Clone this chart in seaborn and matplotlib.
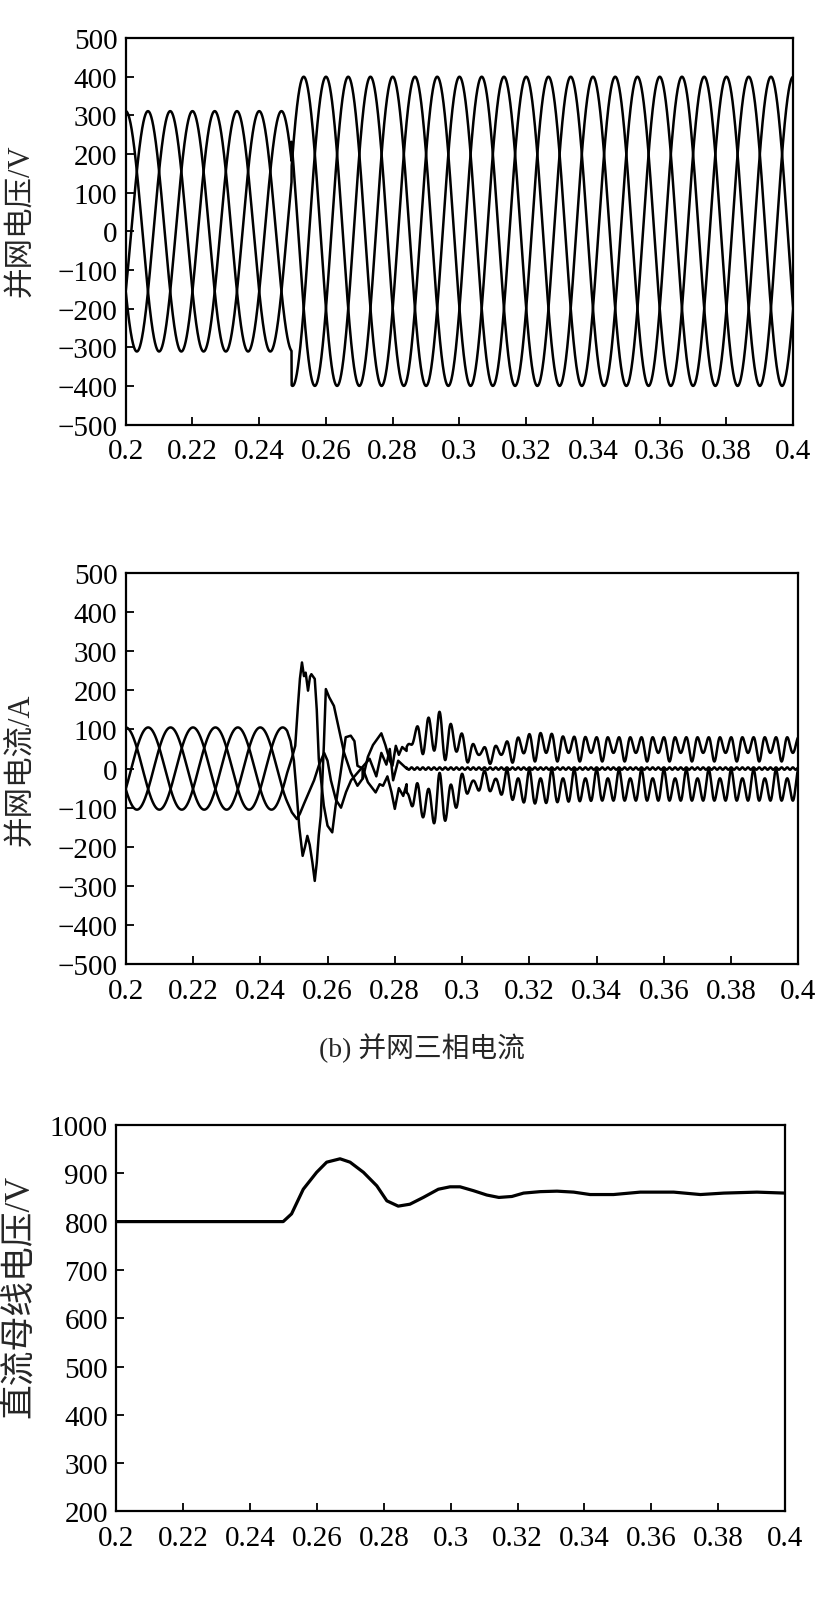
import numpy as np
import matplotlib
matplotlib.use('Agg')
import matplotlib.pyplot as plt
import seaborn as sns

# ---- axis ticks ----
x_ticks = [0.2, 0.22, 0.24, 0.26, 0.28, 0.3, 0.32, 0.34, 0.36, 0.38, 0.4]
x_tick_labels = ['0.2', '0.22', '0.24', '0.26', '0.28', '0.3', '0.32', '0.34', '0.36', '0.38', '0.4']
ac_ticks = [-500, -400, -300, -200, -100, 0, 100, 200, 300, 400, 500]
dc_ticks = [200, 300, 400, 500, 600, 700, 800, 900, 1000]

# ---- (a) grid voltage: three-phase sine, amplitude steps at the switch ----
volt_freq = 50
volt_amp = [311, 400]
volt_switch = 0.2497
phase_shift_deg = [0, -120, 120]

# ---- (b) grid current ----
cur_freq = 50
cur_amp = 105
cur_pre_end = 0.248
# transient vertices (time, value) for the three phases
cur_x_t = [0.2480, 0.2490, 0.2500, 0.2508, 0.2516, 0.2526, 0.2533, 0.2540, 0.2547, 0.2555, 0.2562,
           0.2568, 0.2574, 0.2580, 0.2589, 0.2595, 0.2605, 0.2619, 0.2634, 0.2649, 0.2669, 0.2689, 0.2705]
cur_x_v = [96, 70, 20, -60, -150, -223, -200, -172, -195, -240, -287,
           -240, -170, -121, 58, 203, 182, 160, 101, 41, -10, -44, -25]
cur_y_t = [0.2480, 0.2495, 0.2504, 0.2512, 0.2518, 0.2524, 0.2530, 0.2535, 0.2542, 0.2548, 0.2552,
           0.2562, 0.2568, 0.2574, 0.2589, 0.2600, 0.2614, 0.2624, 0.2639, 0.2654, 0.2669, 0.2680, 0.2689, 0.2705]
cur_y_v = [-11, 30, 58, 160, 230, 271, 236, 245, 199, 235, 241,
           229, 150, 24, -95, -146, -163, -95, -10, 80, 84, 70, 7, 0]
cur_z_t = [0.2480, 0.2494, 0.2509, 0.2518, 0.2530, 0.2545, 0.2560, 0.2575, 0.2590, 0.2600, 0.2610,
           0.2625, 0.2640, 0.2655, 0.2670, 0.2690, 0.2705]
cur_z_v = [-85, -112, -129, -115, -90, -60, -30, 10, 40, 20, -30,
           -80, -100, -60, -30, -10, 5]
# small disturbance before the ripple settles
cur_p_t = [0.2705, 0.2720, 0.2735, 0.2760, 0.2772, 0.2785, 0.2793, 0.2803, 0.2812, 0.2822, 0.2835]
cur_p_v = [-25, 30, 60, 90, 60, 20, 7, 58, 35, 55, 45]
cur_q_t = [0.2705, 0.2720, 0.2743, 0.2755, 0.2765, 0.2778, 0.2790, 0.2800, 0.2812, 0.2825, 0.2835]
cur_q_v = [0, -35, -61, -40, -44, -20, -60, -103, -50, -70, -40]
cur_r_t = [0.2705, 0.2725, 0.2745, 0.2760, 0.2775, 0.2785, 0.2795, 0.2810, 0.2835]
cur_r_v = [5, 25, -20, 40, 10, 50, -30, 20, 0]
# ripple band after 0.2835 (envelope knots)
ripple_freq = 300
band_t = [0.2835, 0.2855, 0.290, 0.293, 0.296, 0.299, 0.302, 0.306, 0.310, 0.315, 0.320, 0.325, 0.330, 0.340, 0.400]
top_hi = [55, 100, 130, 148, 118, 100, 67, 54, 58, 75, 88, 92, 82, 80, 80]
top_lo = [35, 40, 35, 15, 25, 20, 15, 12, 12, 15, 18, 18, 18, 18, 18]
bot_hi = [-70, -103, -137, -142, -129, -91, -60, -55, -60, -80, -90, -88, -85, -82, -82]
bot_lo = [-40, -40, -30, -10, -20, -15, -10, -6, -4, -3, -3, -3, -3, -3, -3]
notch = 22  # alternate ripple dips are shallower by this much
mid_amp = 3

# ---- (c) DC bus voltage ----
dc_t = [0.2, 0.2499, 0.2524, 0.2559, 0.2599, 0.2629, 0.2669, 0.2699, 0.2739, 0.2779, 0.2809,
        0.2843, 0.2878, 0.2918, 0.2963, 0.2998, 0.3028, 0.3068, 0.3108, 0.3144, 0.3183, 0.3218,
        0.3268, 0.3318, 0.3368, 0.3417, 0.3487, 0.3567, 0.3667, 0.3747, 0.3817, 0.3916, 0.4]
dc_v = [800, 800, 816, 867, 902, 923, 930, 923, 902, 874, 843,
        832, 836, 850, 867, 872, 872, 864, 855, 850, 852, 859,
        862, 863, 861, 856, 856, 861, 861, 856, 859, 861, 859]

sns.set_theme(style='ticks')
plt.rcParams['font.family'] = ['Liberation Serif', 'Noto Sans CJK SC']
plt.rcParams['axes.unicode_minus'] = True

fig = plt.figure(figsize=(8.19, 16.15), dpi=100)
ax1 = fig.add_axes([0.1535, 0.7365, 0.815, 0.2393])
ax2 = fig.add_axes([0.1535, 0.4023, 0.8214, 0.2424])
ax3 = fig.add_axes([0.1421, 0.0635, 0.8164, 0.2393])

t = np.linspace(0.2, 0.4, 8001)
lw = 1.8

# (a)
amp = np.where(t < volt_switch, volt_amp[0], volt_amp[1])
for sh in phase_shift_deg:
    v = amp * np.cos(2 * np.pi * volt_freq * (t - 0.2) + np.deg2rad(sh))
    sns.lineplot(x=t, y=v, ax=ax1, color='black', lw=lw, estimator=None, sort=False)

# (b)
tp = t[t < cur_pre_end]
pre = {}
for sh in phase_shift_deg:
    pre[sh] = cur_amp * np.cos(2 * np.pi * cur_freq * (tp - 0.2) + np.deg2rad(sh))

tb = t[t >= band_t[0]]
ph = 2 * np.pi * ripple_freq * (tb - 0.2)
w_top = 0.5 + 0.5 * np.cos(ph)
w_bot = 0.5 + 0.5 * np.cos(ph + np.pi)
alt_top = notch * (0.5 - 0.5 * np.sin(ph / 2)) * (1 - w_top)
alt_bot = notch * (0.5 - 0.5 * np.cos(ph / 2)) * (1 - w_bot)
t_lo = np.interp(tb, band_t, top_lo)
b_lo = np.interp(tb, band_t, bot_lo)
p_band = t_lo + alt_top + (np.interp(tb, band_t, top_hi) - t_lo) * w_top
q_band = b_lo - alt_bot + (np.interp(tb, band_t, bot_hi) - b_lo) * w_bot
r_band = mid_amp * np.cos(2 * ph)

traces = [
    (pre[-120], cur_x_t, cur_x_v, cur_q_t, cur_q_v, q_band),
    (pre[120], cur_y_t, cur_y_v, cur_p_t, cur_p_v, p_band),
    (pre[0], cur_z_t, cur_z_v, cur_r_t, cur_r_v, r_band),
]
for pre_v, tr_t, tr_v, d_t, d_v, band in traces:
    xx = np.concatenate([tp, tr_t, d_t, tb])
    yy = np.concatenate([pre_v, tr_v, d_v, band])
    sns.lineplot(x=xx, y=yy, ax=ax2, color='black', lw=lw, estimator=None, sort=False)

# (c)
sns.lineplot(x=dc_t, y=dc_v, ax=ax3, color='black', lw=2.3, estimator=None, sort=False)

for ax in (ax1, ax2, ax3):
    ax.set_xlim(0.2, 0.4)
    ax.set_xticks(x_ticks)
    ax.set_xticklabels(x_tick_labels)
    ax.tick_params(direction='in', length=6, width=1.3, labelsize=21, pad=10,
                   top=False, right=False, colors='black')
    ax.tick_params(axis='y', pad=6)
    for s in ax.spines.values():
        s.set_linewidth(1.6)
        s.set_color('black')
    ax.set_xlabel('')

ax1.set_ylim(-500, 500)
ax1.set_yticks(ac_ticks)
ax1.set_ylabel('并网电压/V', fontsize=22, va='center')
ax1.yaxis.set_label_coords(-0.157, 0.53)

ax2.set_ylim(-500, 500)
ax2.set_yticks(ac_ticks)
ax2.set_ylabel('并网电流/A', fontsize=22, va='center')
ax2.yaxis.set_label_coords(-0.155, 0.5)

ax3.set_ylim(200, 1000)
ax3.set_yticks(dc_ticks)
ax3.set_ylabel('直流母线电压/V', fontsize=25, va='center')
ax3.yaxis.set_label_coords(-0.145, 0.56)

fig.text(422 / 819, 1 - 1048 / 1615, '(b) 并网三相电流', fontsize=20, ha='center', va='center')

fig.savefig('out.png', dpi=100, facecolor='white')
